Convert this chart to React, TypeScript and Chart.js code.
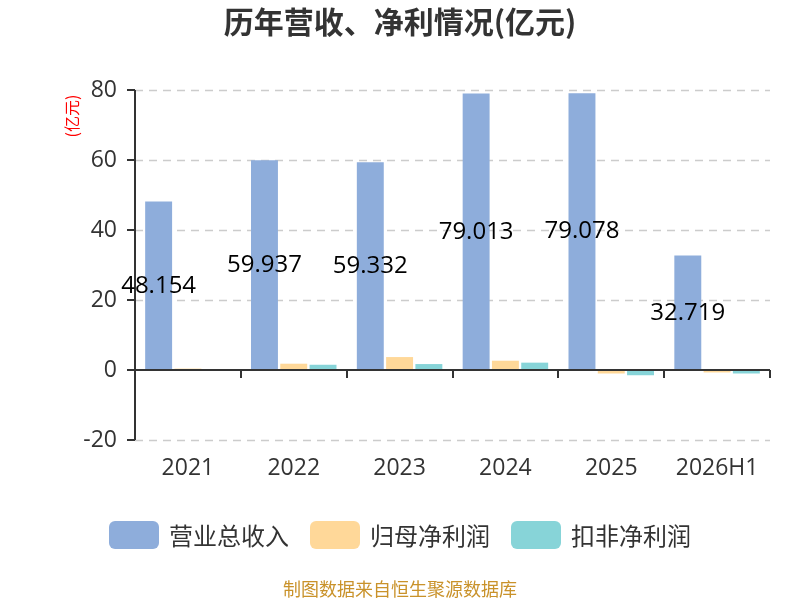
import React, { useEffect, useRef } from 'react';
import { Chart, registerables } from 'chart.js';

Chart.register(...registerables);

const categories = ['2021', '2022', '2023', '2024', '2025', '2026H1'];
const revenue = [48.154, 59.937, 59.332, 79.013, 79.078, 32.719];
const netProfit = [0.4, 1.8, 3.7, 2.65, -1.0, -0.7];
const deductedProfit = [0.1, 1.5, 1.7, 2.1, -1.5, -1.0];
const seriesNames = ['营业总收入', '归母净利润', '扣非净利润'];
const seriesColors = ['#8eaddb', '#ffd899', '#87d4d8'];
const yTicks = [-20, 0, 20, 40, 60, 80];

const FONT = '"Open Sans", "Noto Sans CJK SC", sans-serif';
const CJK = '"Noto Sans CJK SC", "Open Sans", sans-serif';

const decor = {
  id: 'decor',
  beforeDatasetsDraw(chart: any) {
    const { ctx, chartArea } = chart;
    const y = chart.scales.y;
    ctx.save();
    ctx.strokeStyle = '#cccccc';
    ctx.lineWidth = 1.5;
    ctx.setLineDash([8, 6]);
    yTicks.forEach((v) => {
      if (v === 0) return;
      const py = Math.round(y.getPixelForValue(v)) + 0.5;
      ctx.beginPath();
      ctx.moveTo(chartArea.left, py);
      ctx.lineTo(chartArea.right, py);
      ctx.stroke();
    });
    ctx.restore();
  },
  afterDatasetsDraw(chart: any) {
    const { ctx, chartArea } = chart;
    const x = chart.scales.x;
    const y = chart.scales.y;
    ctx.save();
    ctx.strokeStyle = '#333333';
    ctx.lineWidth = 2;
    ctx.beginPath();
    ctx.moveTo(chartArea.left, chartArea.top);
    ctx.lineTo(chartArea.left, chartArea.bottom);
    ctx.stroke();
    yTicks.forEach((v) => {
      const py = Math.round(y.getPixelForValue(v));
      ctx.beginPath();
      ctx.moveTo(chartArea.left - 8, py);
      ctx.lineTo(chartArea.left, py);
      ctx.stroke();
    });
    const y0 = Math.round(y.getPixelForValue(0));
    ctx.beginPath();
    ctx.moveTo(chartArea.left, y0);
    ctx.lineTo(chartArea.right, y0);
    ctx.stroke();
    for (let i = 0; i <= categories.length; i++) {
      const px = Math.round(x.getPixelForValue(i - 0.5));
      ctx.beginPath();
      ctx.moveTo(px, y0);
      ctx.lineTo(px, y0 + 8);
      ctx.stroke();
    }
    const meta = chart.getDatasetMeta(0);
    ctx.fillStyle = '#000000';
    ctx.font = `24px ${FONT}`;
    ctx.textAlign = 'center';
    ctx.textBaseline = 'middle';
    meta.data.forEach((bar: any, i: number) => {
      const cy = (bar.y + bar.base) / 2;
      ctx.fillText(revenue[i].toFixed(3), bar.x, cy);
    });
    ctx.restore();
  },
  afterDraw(chart: any) {
    const { ctx } = chart;
    const W = chart.width;
    ctx.save();
    ctx.fillStyle = '#333333';
    ctx.font = `bold 30px ${CJK}`;
    ctx.textAlign = 'center';
    ctx.textBaseline = 'middle';
    ctx.fillText('历年营收、净利情况(亿元)', W / 2, 22);
    ctx.save();
    ctx.translate(72, 116);
    ctx.rotate(-Math.PI / 2);
    ctx.fillStyle = '#ff0000';
    ctx.font = `16px ${CJK}`;
    ctx.fillText('(亿元)', 0, 0);
    ctx.restore();
    ctx.font = `24px ${CJK}`;
    const boxW = 50;
    const boxH = 28;
    const gapText = 10;
    const gapItem = 21;
    const widths = seriesNames.map((n) => boxW + gapText + ctx.measureText(n).width);
    const total = widths.reduce((a, b) => a + b, 0) + gapItem * (seriesNames.length - 1);
    let lx = (W - total) / 2;
    const ly = 535;
    seriesNames.forEach((n, i) => {
      ctx.fillStyle = seriesColors[i];
      ctx.beginPath();
      (ctx as any).roundRect(lx, ly - boxH / 2, boxW, boxH, 6);
      ctx.fill();
      ctx.fillStyle = '#333333';
      ctx.textAlign = 'left';
      ctx.textBaseline = 'middle';
      ctx.fillText(n, lx + boxW + gapText, ly + 1);
      lx += widths[i] + gapItem;
    });
    ctx.fillStyle = '#c9922a';
    ctx.font = `18px ${CJK}`;
    ctx.textAlign = 'center';
    ctx.textBaseline = 'middle';
    ctx.fillText('制图数据来自恒生聚源数据库', W / 2, 589);
    ctx.restore();
  },
};

export default function App() {
  const ref = useRef<HTMLCanvasElement>(null);
  useEffect(() => {
    document.body.style.margin = '0';
    const chart = new Chart(ref.current as HTMLCanvasElement, {
      type: 'bar',
      data: {
        labels: categories,
        datasets: [
          { label: seriesNames[0], data: revenue, backgroundColor: seriesColors[0] },
          { label: seriesNames[1], data: netProfit, backgroundColor: seriesColors[1] },
          { label: seriesNames[2], data: deductedProfit, backgroundColor: seriesColors[2] },
        ],
      },
      options: {
        animation: false,
        responsive: false,
        devicePixelRatio: 1,
        layout: { padding: { top: 90, right: 30, left: 0, bottom: 0 } },
        datasets: { bar: { categoryPercentage: 0.83, barPercentage: 0.92 } },
        plugins: { legend: { display: false }, title: { display: false }, tooltip: { enabled: false } },
        scales: {
          x: {
            grid: { display: false },
            border: { display: false },
            ticks: { color: '#333333', font: { size: 23, family: FONT }, padding: 7 },
            afterFit: (s: any) => { s.height = 160; },
          },
          y: {
            min: -20,
            max: 80,
            grid: { display: false },
            border: { display: false },
            ticks: { stepSize: 20, color: '#333333', font: { size: 23, family: FONT }, padding: 10 },
            afterFit: (s: any) => { s.width = 135; },
          },
        },
      },
      plugins: [decor],
    });
    return () => chart.destroy();
  }, []);
  return (
    <div style={{ width: 800, height: 600 }}>
      <canvas ref={ref} width={800} height={600} />
    </div>
  );
}
